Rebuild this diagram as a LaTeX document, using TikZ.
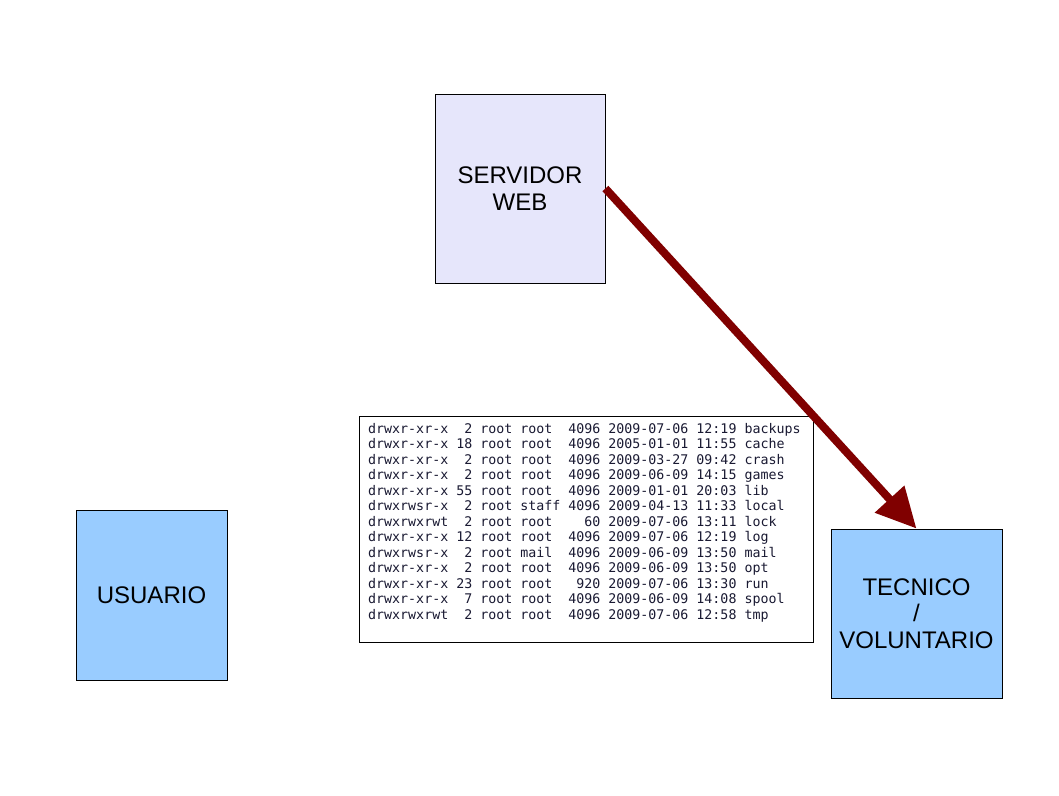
\documentclass[tikz,border=0pt]{standalone}
\usepackage{fontspec}
\setmainfont{Liberation Sans}
\newfontfamily\listmono{DejaVu Sans Mono}
\usetikzlibrary{arrows.meta}
\definecolor{lavbox}{RGB}{230,230,251}
\definecolor{bluebox}{RGB}{153,204,255}
\definecolor{arrowred}{RGB}{128,0,0}
\definecolor{listtext}{RGB}{25,25,50}
\tikzset{
  boxnode/.style={draw=black, line width=0.8pt, inner sep=0pt, align=center,
    font=\fontsize{24}{26.5}\selectfont},
  listframe/.style={draw=black, line width=0.8pt, fill=white, inner sep=0pt},
  listlines/.style={inner sep=0pt, align=left, text=listtext,
    font=\listmono\fontsize{13.3}{15.5}\selectfont},
  bigarrow/.style={draw=arrowred, line width=8pt,
    -{Triangle[length=40pt,width=38pt]}}
}
\begin{document}
\begin{tikzpicture}[x=1pt,y=-1pt]
\useasboundingbox (0,0) rectangle (1059,795);
\fill[white] (0,0) rectangle (1059,795);
\node[boxnode, fill=lavbox, minimum width=170pt, minimum height=189pt] (srv) at (520,188.5) {SERVIDOR\\WEB};
\node[boxnode, fill=bluebox, minimum width=151pt, minimum height=170pt] (usr) at (151.5,595) {USUARIO};
\node[boxnode, fill=bluebox, minimum width=171pt, minimum height=169pt] (tec) at (916.5,613.5) {TECNICO\\/\\VOLUNTARIO};
\node[listframe, minimum width=454pt, minimum height=226pt] (lst) at (586,529) {};
\node[listlines, anchor=north west] (lsttxt) at (368,423) {%
drwxr-xr-x~~2~root~root~~4096~2009-07-06~12:19~backups\\
drwxr-xr-x~18~root~root~~4096~2005-01-01~11:55~cache\\
drwxr-xr-x~~2~root~root~~4096~2009-03-27~09:42~crash\\
drwxr-xr-x~~2~root~root~~4096~2009-06-09~14:15~games\\
drwxr-xr-x~55~root~root~~4096~2009-01-01~20:03~lib\\
drwxrwsr-x~~2~root~staff~4096~2009-04-13~11:33~local\\
drwxrwxrwt~~2~root~root~~~~60~2009-07-06~13:11~lock\\
drwxr-xr-x~12~root~root~~4096~2009-07-06~12:19~log\\
drwxrwsr-x~~2~root~mail~~4096~2009-06-09~13:50~mail\\
drwxr-xr-x~~2~root~root~~4096~2009-06-09~13:50~opt\\
drwxr-xr-x~23~root~root~~~920~2009-07-06~13:30~run\\
drwxr-xr-x~~7~root~root~~4096~2009-06-09~14:08~spool\\
drwxrwxrwt~~2~root~root~~4096~2009-07-06~12:58~tmp};
\draw[bigarrow] (srv.east) -- (tec.north);
\end{tikzpicture}
\end{document}
